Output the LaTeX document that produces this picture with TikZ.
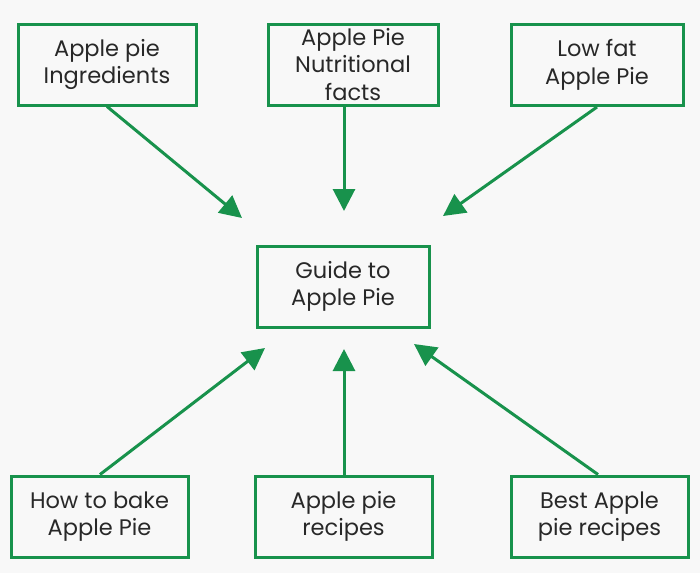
\documentclass[tikz,border=0pt]{standalone}
\usepackage{fontspec}
\setmainfont{Poppins}
\usetikzlibrary{positioning,arrows.meta,calc}
\definecolor{piegreen}{RGB}{24,146,76}
\definecolor{pietext}{RGB}{40,40,40}
\definecolor{piebg}{RGB}{248,248,248}

\begin{document}
\begin{tikzpicture}[x=1pt,y=-1pt,
    topic/.style={draw=piegreen,line width=3pt,align=center,inner sep=0pt,
        text=pietext,font=\fontsize{22.5}{27.5}\selectfont,minimum height=81pt},
    arr/.style={piegreen,line width=3pt,-{Triangle[length=22pt,width=22pt]}}]
    % Background
    \fill[piebg] (0,0) rectangle (700,573);
    \useasboundingbox (0,0) rectangle (700,573);

    % Centre topic
    \node[topic,minimum width=172pt] (guide) at (343,286.5) {Guide to\\Apple Pie};

    % Upper topics
    \node[topic,minimum width=178pt] (ingr) at (107,64.5) {Apple pie\\Ingredients};
    \node[topic,minimum width=170pt] (facts) at (353,64.5) {Apple Pie\\Nutritional\\facts};
    \node[topic,minimum width=172pt] (lowfat) at (597,65) {Low fat\\Apple Pie};

    % Lower topics
    \node[topic,minimum width=177pt] (bake) at (99.5,516.5) {How to bake\\Apple Pie};
    \node[topic,minimum width=177pt] (recipes) at (343.5,516.5) {Apple pie\\recipes};
    \node[topic,minimum width=177pt] (best) at (599.5,516.5) {Best Apple\\pie recipes};

    % Arrow tips around the centre
    \coordinate (tipA) at (242,218);
    \coordinate (tipB) at (344,211);
    \coordinate (tipC) at (443,216);
    \coordinate (tipD) at (265,348);
    \coordinate (tipE) at (344,349);
    \coordinate (tipF) at (414,344);

    % Arrows
    \draw[arr] (ingr.south) -- (tipA);
    \draw[arr] (facts.south -| tipB) -- (tipB);
    \draw[arr] (lowfat.south) -- (tipC);
    \draw[arr] ($(bake.north)+(0.5,0)$) -- (tipD);
    \draw[arr] (recipes.north -| tipE) -- (tipE);
    \draw[arr] ($(best.north)+(-1.5,0)$) -- (tipF);
\end{tikzpicture}
\end{document}
